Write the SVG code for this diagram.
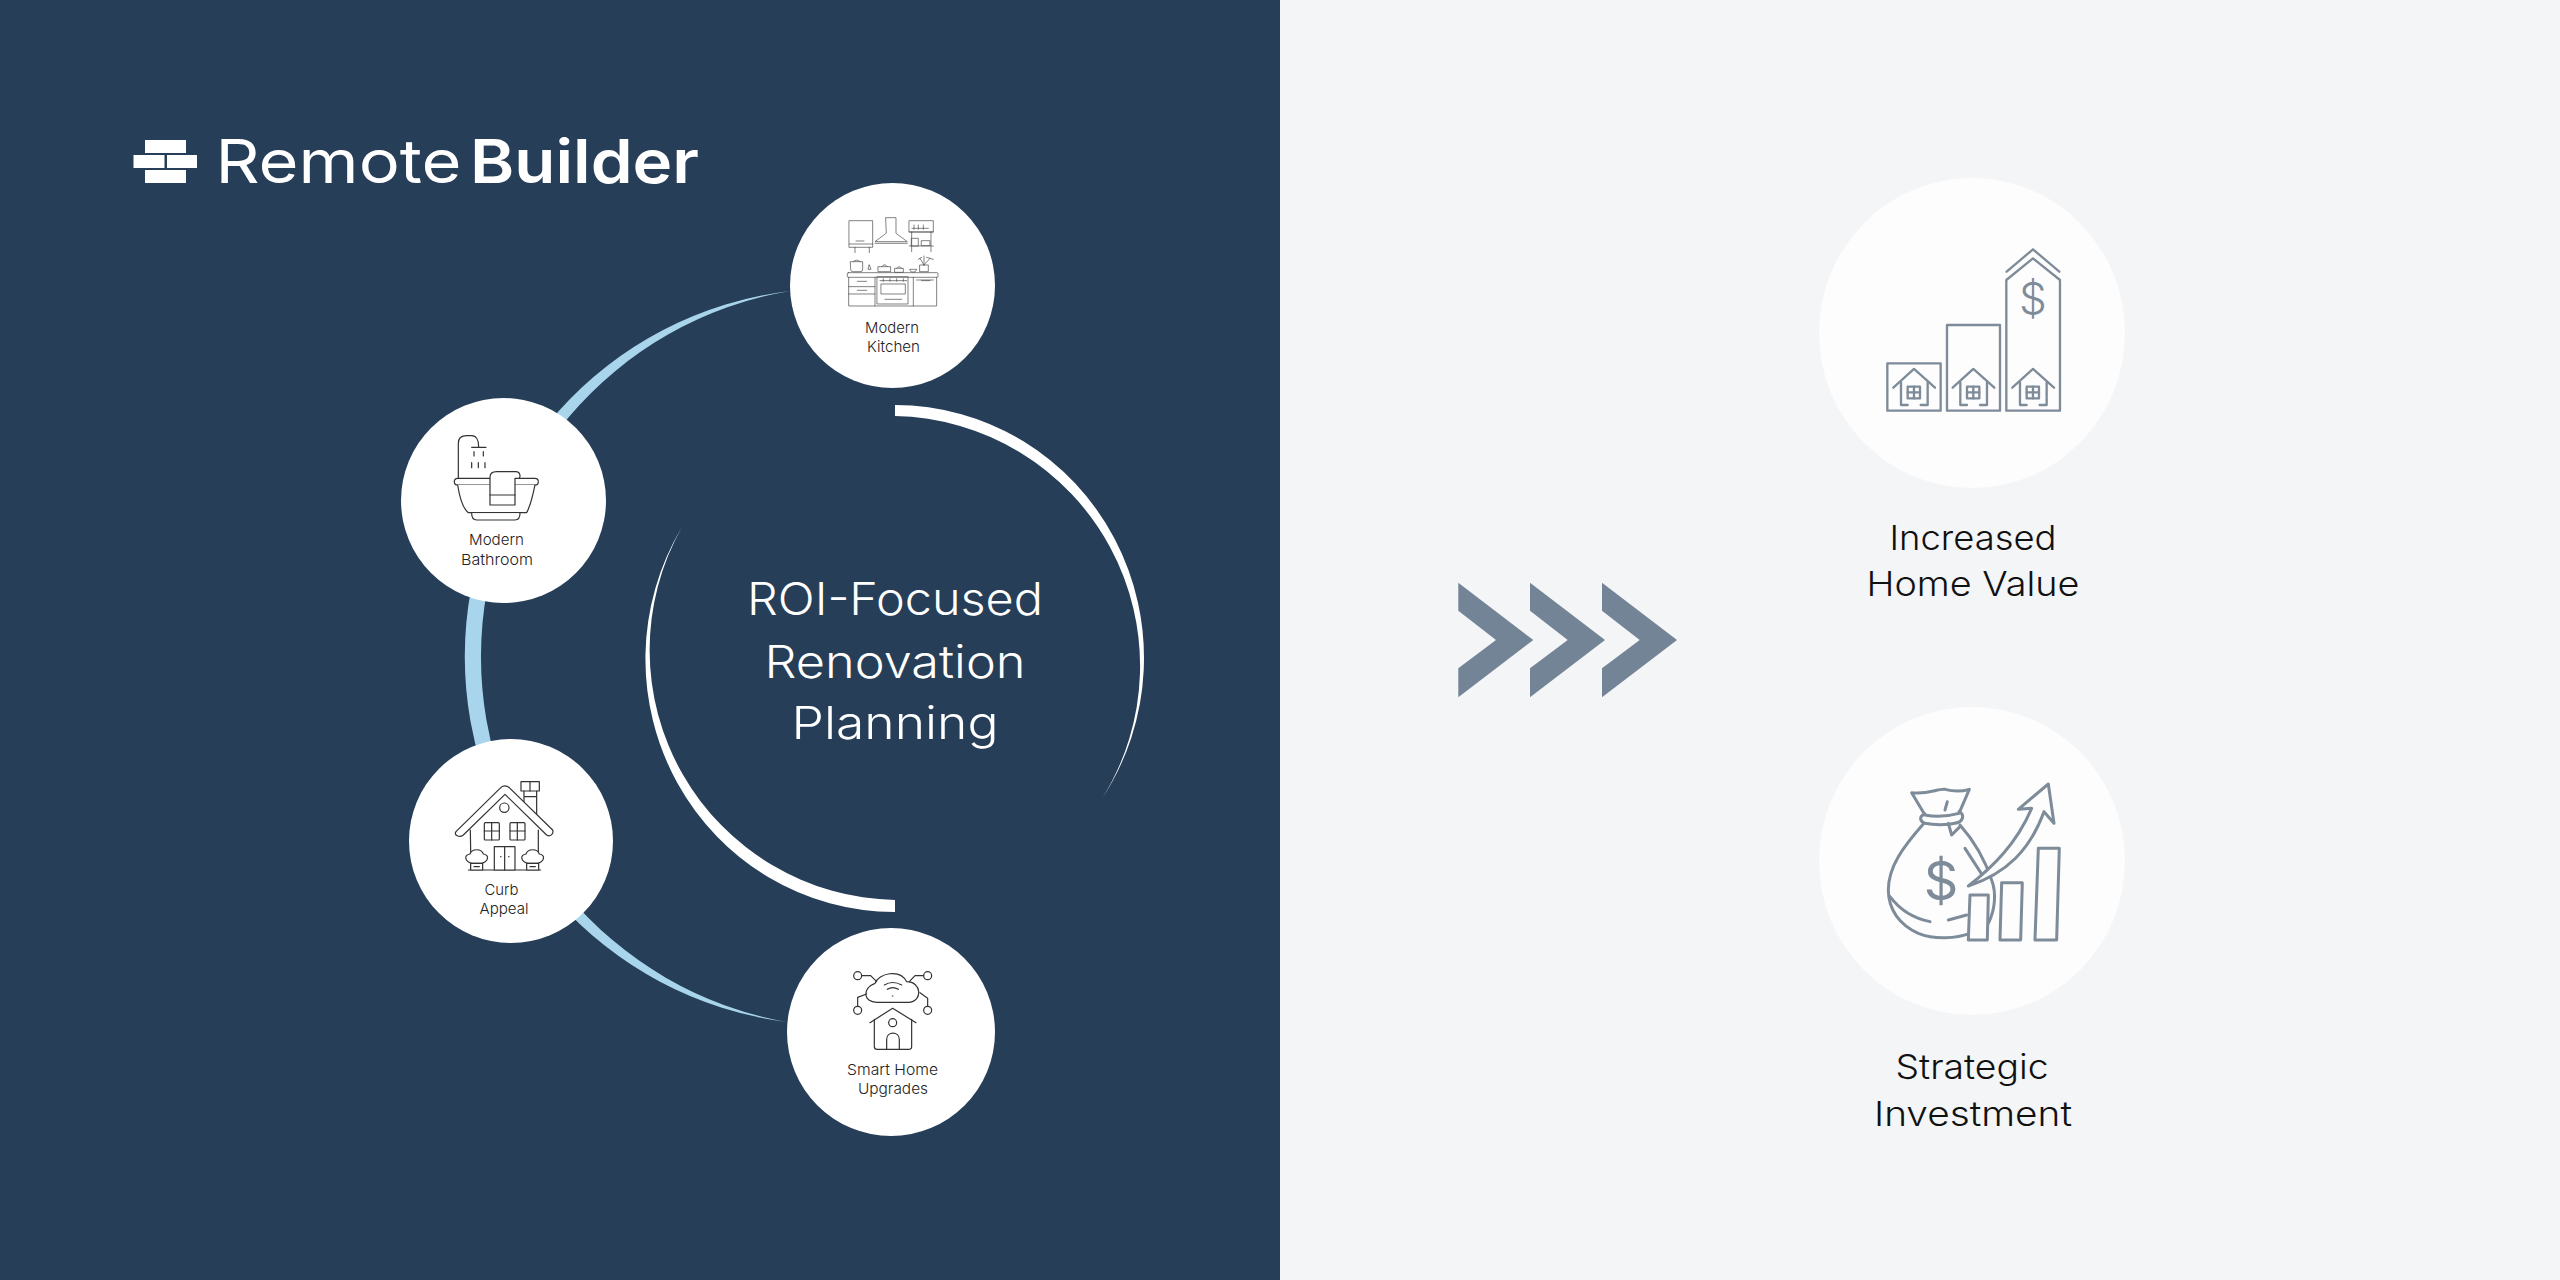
<svg xmlns="http://www.w3.org/2000/svg" width="2560" height="1280" viewBox="0 0 2560 1280">
<style>
text{font-family:"Inter","Open Sans","Liberation Sans",sans-serif;text-anchor:middle}
.n{font-size:15px;font-weight:300;fill:#222}
.c{font-size:45px;font-weight:300;fill:#fff}
.r{font-size:34px;font-weight:300;fill:#111}
.d{fill:#fff;stroke:#333;stroke-width:3.6;stroke-linejoin:round;stroke-linecap:round}
.t{fill:none;stroke:#444;stroke-width:2;stroke-linejoin:round;stroke-linecap:round}
.g{fill:none;stroke:#7e8b98;stroke-width:7;stroke-linejoin:round;stroke-linecap:round}
.w{fill:#fff}
.ch{fill:#748497}
</style>
<defs>
<g id="miniHouse" class="g" fill="none">
<path d="M-62,56 L0,0 L63,56"/>
<path d="M-39,40 V108 H-19 M20,108 H41 V40"/>
<rect x="-19" y="53" width="37" height="35"/>
<path d="M0,53 V88 M-19,70 H18"/>
</g>
<g id="bush"><path d="M215,400 C195,395 190,375 210,372 C215,355 245,355 250,372 C270,375 265,395 245,400 Z"/><rect x="212" y="400" width="36" height="20"/><path d="M222,410 H238"/></g>
</defs>
<rect id="left-panel" x="0" y="0" width="1280" height="1280" fill="#263e58"/>
<rect id="right-panel" x="1280" y="0" width="1280" height="1280" fill="#f3f5f7"/>

<g id="connectors">
<path d="M790,291 A368.200,368.200 0 0 0 787,1022 A370.970,370.970 0 0 1 790,291 Z" fill="#a9d5ec"/>
<path d="M895,405 A249,253 0 0 1 1102,798.600 A250,250 0 0 0 895,416 Z" fill="#fff"/>
<path d="M895,912 A249,253 0 0 1 682,527 A250,250 0 0 0 895,900 Z" fill="#fff"/>
</g>

<g id="logo">
<g fill="#fff">
<rect x="145" y="140" width="41" height="13"/>
<rect x="133.500" y="155" width="31" height="13"/>
<rect x="167" y="155" width="30" height="13"/>
<rect x="145" y="170" width="41" height="13"/>
</g>
<text x="338.500" y="183" font-size="60" font-weight="400" fill="#fff" textLength="246" lengthAdjust="spacingAndGlyphs">Remote</text>
<text x="584.500" y="183" font-size="60" font-weight="600" fill="#fff" textLength="229" lengthAdjust="spacingAndGlyphs">Builder</text>
</g>

<g id="center-title">
<text class="c" x="895" y="615" textLength="296" lengthAdjust="spacingAndGlyphs">ROI-Focused</text>
<text class="c" x="895" y="678" textLength="261" lengthAdjust="spacingAndGlyphs">Renovation</text>
<text class="c" x="895" y="739" textLength="207" lengthAdjust="spacingAndGlyphs">Planning</text>
</g>

<g id="node-kitchen">
<circle class="w" cx="892.500" cy="285.500" r="102.500"/>
<g transform="translate(770,170) scale(0.3333)" class="t">
<rect x="238" y="152" width="70" height="80"/><path d="M238,222 H308 M258,213 H282 M255,232 V248 M298,232 V248"/>
<path d="M348,143 H378 V190 L412,215 H315 L348,190 Z M315,220 H412"/>
<rect x="418" y="152" width="72" height="34"/><path d="M418,186 H490 M418,228 H490 M425,186 V245 M483,186 V245 M426,175 H475 M432,165 V178 M445,165 V178 M460,165 V178"/>
<rect x="425" y="205" width="20" height="23"/><rect x="455" y="212" width="25" height="15"/>
<path d="M242,275 H278 V300 Q278,305 270,305 H250 Q242,305 242,300 Z M250,275 Q260,265 270,275"/>
<path d="M298,285 L303,298 H295 Z"/>
<path d="M325,290 H362 V305 H325 Z M335,290 Q344,278 352,290 M375,295 H400 V307 H375 Z M380,295 Q388,285 395,295"/>
<path d="M420,298 H440 L435,306 H425 Z M450,285 H475 V305 H450 Z M462,285 L450,265 M462,285 L462,258 M462,285 L480,265 M455,262 L445,268 M470,262 L490,268"/>
<rect x="232" y="308" width="272" height="14" rx="3"/>
<path d="M236,322 V408 H500 V322 M236,350 H315 M236,372 H315 M262,334 H290 M262,361 H290 M315,322 V408 M430,322 V408 M440,330 H490 M455,332 H480"/>
<rect x="322" y="320" width="92" height="82"/><rect x="334" y="342" width="72" height="30"/><path d="M330,332 H410 M345,388 H395 M340,326 V334 M360,326 V334 M380,326 V334 M400,326 V334"/>
</g>
<text class="n" x="892" y="333" textLength="54" lengthAdjust="spacingAndGlyphs">Modern</text>
<text class="n" x="893.500" y="352" textLength="53" lengthAdjust="spacingAndGlyphs">Kitchen</text>
</g>

<g id="node-bathroom">
<circle class="w" cx="503.500" cy="500.500" r="102.500"/>
<g transform="translate(390,390) scale(0.3333)" class="d">
<path style="fill:none" d="M205,265 V160 C205,145 215,137 230,137 H245 C258,137 266,150 266,170"/>
<path d="M245,172 H288 M252,185 V198 M280,185 V198 M245,218 V233 M265,218 V233 M285,218 V233"/>
<rect x="193" y="265" width="252" height="20" rx="10"/>
<path d="M203,285 C210,330 218,355 235,368 H410 C420,350 428,320 435,285"/>
<path d="M245,370 C245,385 250,390 260,390 H375 C385,390 390,385 390,370"/>
<path d="M300,345 V262 C300,250 310,245 320,245 H378 C390,245 392,258 388,265 H375 V345 Z"/>
<path d="M300,315 H375"/>
</g>
<text class="n" x="496.500" y="545" textLength="55" lengthAdjust="spacingAndGlyphs">Modern</text>
<text class="n" x="497" y="565" textLength="72" lengthAdjust="spacingAndGlyphs">Bathroom</text>
</g>

<g id="node-curb">
<circle class="w" cx="511" cy="841" r="102"/>
<g transform="translate(400,730) scale(0.3333)" class="d">
<rect x="363" y="155" width="55" height="28"/><path d="M390,155 V183"/>
<path d="M372,183 V225 M410,183 V262 M372,200 H410"/>
<path d="M211,300 L213,420 M415,300 V420 M205,420 H422"/>
<path d="M168,305 L300,175 C308,165 320,165 330,175 L458,300 C462,312 450,322 440,315 L315,193 L190,315 C178,325 160,315 168,305 Z"/>
<circle cx="313" cy="233" r="14"/>
<rect x="253" y="278" width="45" height="52" rx="3"/><path d="M275,278 V330 M253,303 H298"/>
<rect x="330" y="278" width="45" height="52" rx="3"/><path d="M352,278 V330 M330,303 H375"/>
<rect x="283" y="350" width="62" height="70"/><path d="M314,350 V420 M302,380 H303 M326,380 H327"/>
<use href="#bush"/><use href="#bush" x="168"/>
</g>
<text class="n" x="501.500" y="895" textLength="34" lengthAdjust="spacingAndGlyphs">Curb</text>
<text class="n" x="504" y="914" textLength="49" lengthAdjust="spacingAndGlyphs">Appeal</text>
</g>

<g id="node-smart">
<circle class="w" cx="891" cy="1032" r="104"/>
<g transform="translate(780,920) scale(0.3333)" class="d" style="fill:none">
<path d="M290,247 C250,247 245,205 285,190 C295,160 360,145 380,185 C425,185 430,245 385,247 Z"/>
<path d="M313,195 Q338,180 365,195 M322,208 Q338,198 355,208 M337,228 H339"/>
<circle cx="233" cy="167" r="12"/><circle cx="443" cy="167" r="12"/><circle cx="233" cy="271" r="12"/><circle cx="443" cy="271" r="12"/>
<path d="M245,167 H272 L290,185 M431,167 H405 L388,185 M233,259 V232 L260,222 M443,259 V235 L420,218"/>
<path d="M270,308 L338,265 L408,308"/>
<path d="M283,298 V380 Q283,388 292,388 H385 Q395,388 395,380 V298"/>
<circle cx="338" cy="308" r="12"/>
<path d="M320,388 V358 C320,333 358,333 358,358 V388"/>
</g>
<text class="n" x="892.500" y="1075" textLength="91" lengthAdjust="spacingAndGlyphs">Smart Home</text>
<text class="n" x="893" y="1094" textLength="70" lengthAdjust="spacingAndGlyphs">Upgrades</text>
</g>

<g id="chevrons">
<path id="chevron-1" class="ch" d="M1458.300,582.700 L1533.300,640 L1458.300,697.300 V668.300 L1496,640 L1458.300,610.700 Z"/>
<path id="chevron-2" class="ch" d="M1530,582.700 L1605,640 L1530,697.300 V668.300 L1567.700,640 L1530,610.700 Z"/>
<path id="chevron-3" class="ch" d="M1602,582.700 L1677,640 L1602,697.300 V668.300 L1639.700,640 L1602,610.700 Z"/>
</g>

<g id="node-value">
<ellipse cx="1972" cy="333" rx="153" ry="155" fill="#fdfdfe"/>
<g transform="translate(1860,220) scale(0.3333)">
<g class="g">
<rect x="82" y="430" width="160" height="142"/>
<rect x="261" y="315" width="159" height="257"/>
<path d="M439,572 V180 L519,115 L600,180 V572 Z"/>
<path d="M440,155 L519,88 L598,155"/>
</g>
<use href="#miniHouse" x="162" y="447"/>
<use href="#miniHouse" x="340" y="447"/>
<use href="#miniHouse" x="519" y="447"/>
</g>
<text x="2033" y="314" font-size="44" font-weight="300" fill="#7e8b98">$</text>
<text class="r" x="1973" y="550" textLength="167" lengthAdjust="spacingAndGlyphs">Increased</text>
<text class="r" x="1973" y="596" textLength="213" lengthAdjust="spacingAndGlyphs">Home Value</text>
</g>

<g id="node-investment">
<ellipse cx="1972" cy="861" rx="153" ry="154" fill="#fdfdfe"/>
<g transform="translate(1860,760) scale(0.3333)" class="g" style="stroke-width:9">
<path d="M155,98 C200,105 235,85 255,88 C280,95 305,95 328,88 L297,160 C260,170 220,170 195,165 Z"/>
<path d="M195,162 C175,170 180,185 195,190 C230,197 280,195 300,185 C312,175 310,160 297,155"/>
<path d="M265,190 L275,225 L300,200 M255,150 L262,125"/>
<path d="M190,192 C130,260 85,320 85,390 C85,450 120,495 175,520 C225,540 290,535 330,520"/>
<path d="M300,195 C340,240 375,300 395,360 C410,400 405,450 385,490"/>
<path d="M90,410 C120,450 160,475 210,485 M265,480 L320,465 M315,265 L370,350"/>
<path style="fill:#fdfdfe" d="M325,378 C400,320 470,250 515,145 L475,148 L565,72 L582,190 L552,155 C510,270 440,340 325,378 Z"/>
<path style="fill:#fdfdfe" d="M330,405 H385 L382,540 H325 Z"/>
<path d="M425,368 H487 L482,540 H420 Z"/>
<path d="M535,265 H598 L590,540 H525 Z"/>
</g>
<text x="1941" y="900" font-size="54" font-weight="400" fill="#7e8b98">$</text>
<text class="r" x="1972" y="1079" textLength="153" lengthAdjust="spacingAndGlyphs">Strategic</text>
<text class="r" x="1973" y="1126" textLength="198" lengthAdjust="spacingAndGlyphs">Investment</text>
</g>
</svg>
